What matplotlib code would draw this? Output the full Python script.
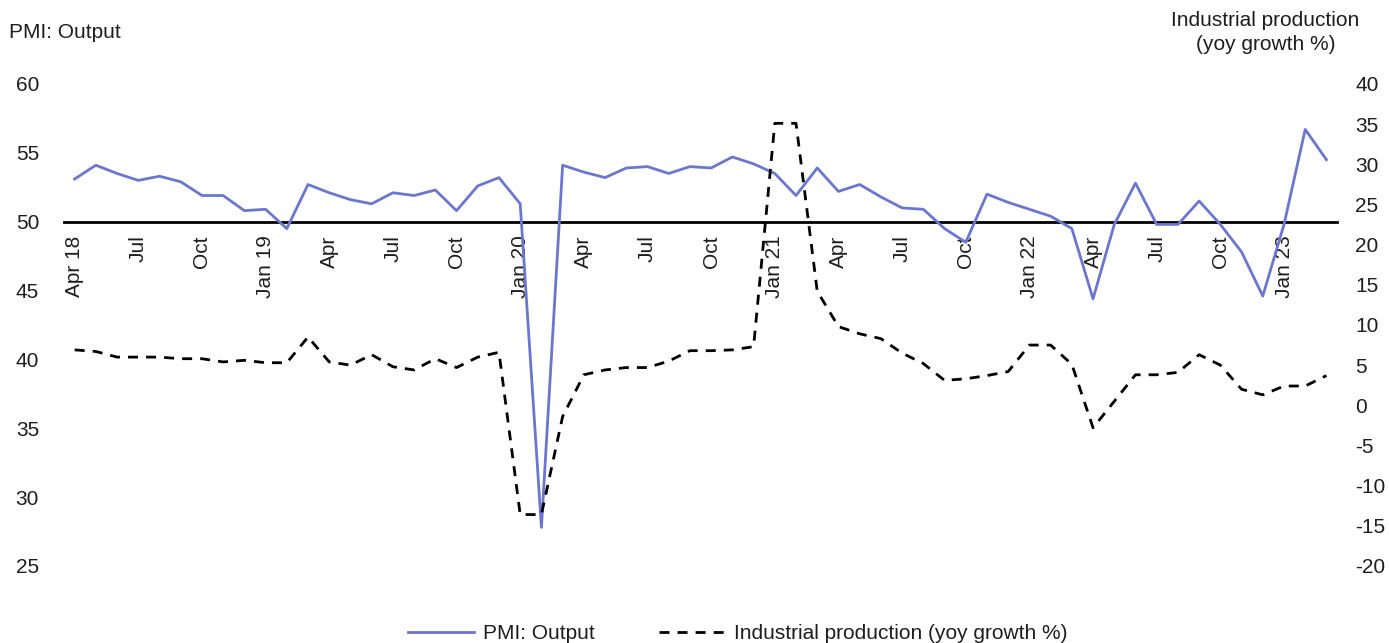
import numpy as np
import matplotlib
matplotlib.use('Agg')
import matplotlib.pyplot as plt

plt.rcParams['font.family'] = ['Liberation Sans', 'DejaVu Sans']
plt.rcParams['axes.unicode_minus'] = False

# Monthly series, Apr 2018 .. Mar 2023
pmi_output = [
    53.1, 54.1, 53.5, 53.0, 53.3, 52.9, 51.9, 51.9, 50.8, 50.9, 49.5, 52.7,
    52.1, 51.6, 51.3, 52.1, 51.9, 52.3, 50.8, 52.6, 53.2, 51.3, 27.8, 54.1,
    53.6, 53.2, 53.9, 54.0, 53.5, 54.0, 53.9, 54.7, 54.2, 53.5, 51.9, 53.9,
    52.2, 52.7, 51.8, 51.0, 50.9, 49.5, 48.5, 52.0, 51.4, 50.9, 50.4, 49.5,
    44.4, 49.8, 52.8, 49.8, 49.8, 51.5, 49.8, 47.8, 44.6, 49.8, 56.7, 54.5,
]
ind_prod = [
    6.9, 6.7, 6.0, 6.0, 6.0, 5.8, 5.8, 5.4, 5.6, 5.3, 5.3, 8.5,
    5.4, 5.0, 6.3, 4.8, 4.4, 5.8, 4.7, 6.0, 6.6, -13.6, -13.6, -1.4,
    3.8, 4.4, 4.7, 4.7, 5.5, 6.8, 6.8, 6.9, 7.3, 35.1, 35.1, 14.2,
    9.8, 8.9, 8.3, 6.5, 5.2, 3.1, 3.3, 3.7, 4.2, 7.5, 7.5, 5.1,
    -2.8, 0.5, 3.8, 3.8, 4.1, 6.3, 5.0, 2.0, 1.3, 2.4, 2.4, 3.7,
]
tick_labels = ['Apr 18', 'Jul', 'Oct', 'Jan 19', 'Apr', 'Jul', 'Oct', 'Jan 20',
               'Apr', 'Jul', 'Oct', 'Jan 21', 'Apr', 'Jul', 'Oct', 'Jan 22',
               'Apr', 'Jul', 'Oct', 'Jan 23']
left_ticks = [25, 30, 35, 40, 45, 50, 55, 60]
right_ticks = [-20, -15, -10, -5, 0, 5, 10, 15, 20, 25, 30, 35, 40]

txt = '#1e1e1e'
fsize = 15
x = np.arange(len(pmi_output))

fig = plt.figure(figsize=(13.89, 6.43), dpi=100)
ax = fig.add_axes([0.0461, 0.1198, 0.9165, 0.7496])
ax2 = ax.twinx()

l1, = ax.plot(x, pmi_output, color='#6b77cf', lw=2.0, label='PMI: Output', zorder=3)
l2, = ax2.plot(x, ind_prod, color='black', lw=2.0, dashes=(3.6, 2.9),
               label='Industrial production (yoy growth %)')

ax.set_xlim(-0.5, len(x) - 0.5)
ax.set_ylim(25, 60)
ax2.set_ylim(-20, 40)
ax.set_yticks(left_ticks)
ax2.set_yticks(right_ticks)
ax.set_xticks(x[::3])
ax.set_xticklabels(tick_labels)

for s in ['top', 'left', 'right']:
  ax.spines[s].set_visible(False)
for s in ['top', 'left', 'right', 'bottom']:
  ax2.spines[s].set_visible(False)
# axis line sits on the 50 threshold
ax.spines['bottom'].set_position(('data', 50))
ax.spines['bottom'].set_linewidth(2.0)
ax.spines['bottom'].set_color('black')

ax.tick_params(axis='x', length=0, pad=10, labelsize=fsize, labelcolor=txt,
               labelrotation=90)
ax.tick_params(axis='y', length=0, pad=18, labelsize=fsize, labelcolor=txt)
ax2.tick_params(axis='y', length=0, pad=13, labelsize=fsize, labelcolor=txt)

fig.text(0.0065, 0.95, 'PMI: Output', fontsize=fsize, color=txt,
         ha='left', va='center')
fig.text(0.911, 0.949, 'Industrial production\n(yoy growth %)', fontsize=fsize,
         color=txt, ha='center', va='center', linespacing=1.32)

fig.legend(handles=[l1, l2], loc='center', bbox_to_anchor=(0.531, 0.015),
           ncol=2, frameon=False, fontsize=fsize, handlelength=3.2,
           handletextpad=0.4, columnspacing=3.1, labelcolor=txt)

fig.savefig('out.png', dpi=100)
